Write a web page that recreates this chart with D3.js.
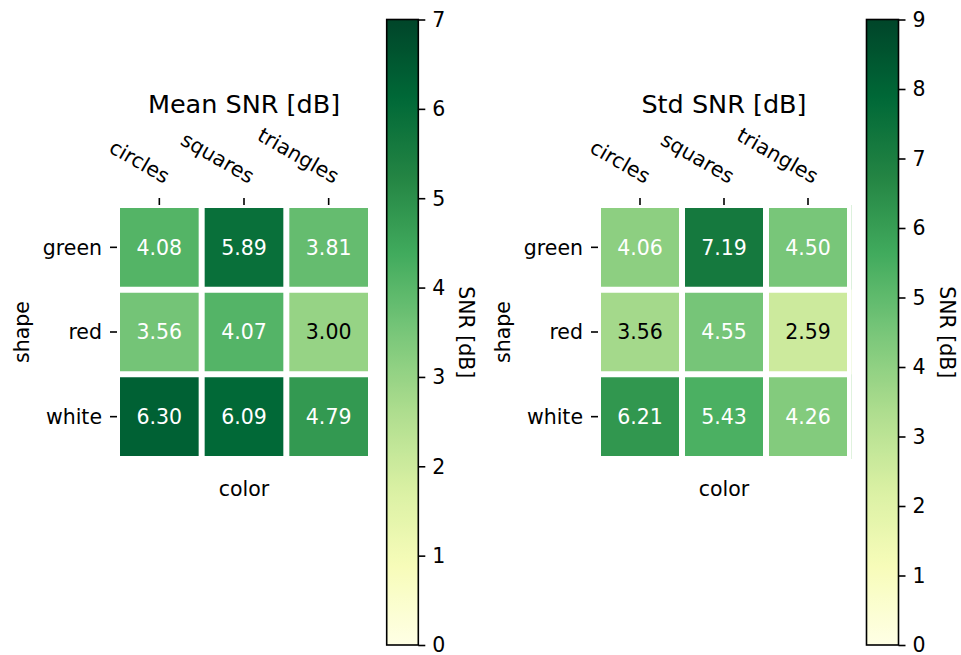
<!DOCTYPE html>
<html>
<head>
<meta charset="utf-8">
<script src="https://cdn.jsdelivr.net/npm/d3@7/dist/d3.min.js"></script>
<style>
  html, body { margin: 0; padding: 0; background: #fff; }
  svg { display: block; font-family: "DejaVu Sans", sans-serif; }
</style>
</head>
<body>
<svg id="chart" width="961" height="655"></svg>
<script>
// Row / column categories
const shapes = ["green", "red", "white"];
const colors = ["circles", "squares", "triangles"];

// SNR statistics per (shape, color)
const meanSNR = [
  [4.08, 5.89, 3.81],
  [3.56, 4.07, 3.00],
  [6.30, 6.09, 4.79]
];
const stdSNR = [
  [4.06, 7.19, 4.50],
  [3.56, 4.55, 2.59],
  [6.21, 5.43, 4.26]
];

// Colorbar tick values
const meanTicks = [0, 1, 2, 3, 4, 5, 6, 7];
const stdTicks = [0, 1, 2, 3, 4, 5, 6, 7, 8, 9];

const panelTitles = ["Mean SNR [dB]", "Std SNR [dB]"];
const xAxisLabel = "color";
const yAxisLabel = "shape";
const colorbarLabel = "SNR [dB]";

// Layout of each panel (heatmap axes, colorbar box)
const layouts = [
  { ax: { x0: 117, x1: 371, y0: 205, y1: 459 },
    cb: { x0: 386.7, x1: 418.3, y0: 19.5, y1: 645 }, overhang: 0 },
  { ax: { x0: 598, x1: 850, y0: 205, y1: 459 },
    cb: { x0: 866.5, x1: 898.5, y0: 19.5, y1: 645 }, overhang: 1.5 }
];

const panels = [
  { title: panelTitles[0], values: meanSNR, ticks: meanTicks, ...layouts[0] },
  { title: panelTitles[1], values: stdSNR, ticks: stdTicks, ...layouts[1] }
];

const svg = d3.select("#chart");
const defs = svg.append("defs");
const FS = 20.5;
const TITLE_FS = 25.5;
const ylgn = d3.schemeYlGn[9];

panels.forEach((p, pi) => {
  const vmax = d3.max(p.ticks), vmin = d3.min(p.ticks);
  const color = d3.scaleLinear()
    .domain(ylgn.map((_, i) => vmin + (vmax - vmin) * i / (ylgn.length - 1)))
    .range(ylgn)
    .interpolate(d3.interpolateRgb)
    .clamp(true);
  const norm = d3.scaleLinear().domain([vmin, vmax]);
  const threshold = norm(d3.max(p.values.flat())) / 2;

  const x = d3.scaleBand().domain(colors).range([p.ax.x0, p.ax.x1]);
  const y = d3.scaleBand().domain(shapes).range([p.ax.y0, p.ax.y1]);

  const g = svg.append("g");

  // Cells (the image may spill a little past the right grid line)
  const cells = [];
  shapes.forEach((s, i) => colors.forEach((c, j) => cells.push({ s, c, v: p.values[i][j], j })));
  const imgClipId = "imgclip" + pi;
  defs.append("clipPath").attr("id", imgClipId).append("rect")
    .attr("x", p.ax.x0).attr("y", p.ax.y0)
    .attr("width", p.ax.x1 - p.ax.x0 + p.overhang).attr("height", p.ax.y1 - p.ax.y0);
  g.append("g").attr("clip-path", `url(#${imgClipId})`)
    .selectAll("rect").data(cells).join("rect")
    .attr("x", d => x(d.c))
    .attr("y", d => y(d.s))
    .attr("width", d => x.bandwidth() + (d.j === colors.length - 1 ? p.overhang : 0))
    .attr("height", y.bandwidth())
    .attr("fill", d => color(d.v));

  // White grid between cells, clipped to the axes box
  const clipId = "axclip" + pi;
  defs.append("clipPath").attr("id", clipId).append("rect")
    .attr("x", p.ax.x0 - 1).attr("y", p.ax.y0 - 1)
    .attr("width", p.ax.x1 - p.ax.x0 + 2).attr("height", p.ax.y1 - p.ax.y0 + 2);
  const grid = g.append("g").attr("clip-path", `url(#${clipId})`)
    .attr("stroke", "#fff").attr("stroke-width", 6);
  const xb = colors.map(c => x(c)).concat([p.ax.x1]);
  const yb = shapes.map(s => y(s)).concat([p.ax.y1]);
  grid.selectAll("line.v").data(xb).join("line").attr("class", "v")
    .attr("x1", d => d).attr("x2", d => d).attr("y1", p.ax.y0 - 5).attr("y2", p.ax.y1 + 5);
  grid.selectAll("line.h").data(yb).join("line").attr("class", "h")
    .attr("y1", d => d).attr("y2", d => d).attr("x1", p.ax.x0 - 5).attr("x2", p.ax.x1 + 5);

  // Annotations
  g.append("g").selectAll("text").data(cells).join("text")
    .attr("x", d => x(d.c) + x.bandwidth() / 2)
    .attr("y", d => y(d.s) + y.bandwidth() / 2)
    .attr("dy", "0.36em")
    .attr("text-anchor", "middle")
    .attr("font-size", FS)
    .attr("fill", d => norm(d.v) > threshold ? "#fff" : "#000")
    .text(d => d.v.toFixed(2));

  // Top axis with rotated labels
  const xAxis = g.append("g")
    .attr("transform", `translate(0,${p.ax.y0})`)
    .call(d3.axisTop(x).tickSize(7).tickSizeOuter(0));
  xAxis.select(".domain").remove();
  xAxis.selectAll(".tick line").attr("stroke", "#000").attr("stroke-width", 1.6);
  xAxis.selectAll(".tick text")
    .attr("font-size", FS).attr("font-family", "DejaVu Sans")
    .attr("fill", "#000")
    .attr("text-anchor", "end")
    .attr("x", 0).attr("y", 0).attr("dy", 0)
    .attr("transform", "translate(5,-21) rotate(30)");

  // Left axis
  const yAxis = g.append("g")
    .attr("transform", `translate(${p.ax.x0},0)`)
    .call(d3.axisLeft(y).tickSize(7).tickPadding(8).tickSizeOuter(0));
  yAxis.select(".domain").remove();
  yAxis.selectAll(".tick line").attr("stroke", "#000").attr("stroke-width", 1.6);
  yAxis.selectAll(".tick text")
    .attr("font-size", FS).attr("font-family", "DejaVu Sans")
    .attr("fill", "#000").attr("dy", "0.36em");

  const cx = (p.ax.x0 + p.ax.x1) / 2;
  const cy = (p.ax.y0 + p.ax.y1) / 2;

  // Title and axis labels
  g.append("text").attr("x", cx).attr("y", 113)
    .attr("text-anchor", "middle").attr("font-size", TITLE_FS).attr("fill", "#000")
    .text(p.title);
  g.append("text").attr("x", cx).attr("y", 496)
    .attr("text-anchor", "middle").attr("font-size", FS).attr("fill", "#000")
    .text(xAxisLabel);
  g.append("text")
    .attr("transform", `translate(${p.ax.x0 - 88.5},${cy}) rotate(-90)`)
    .attr("text-anchor", "middle").attr("font-size", FS).attr("fill", "#000")
    .text(yAxisLabel);

  // Colorbar
  const gradId = "cbgrad" + pi;
  const grad = defs.append("linearGradient").attr("id", gradId)
    .attr("x1", 0).attr("y1", 1).attr("x2", 0).attr("y2", 0);
  grad.selectAll("stop").data(d3.range(0, 1.0001, 1 / 64)).join("stop")
    .attr("offset", d => d)
    .attr("stop-color", d => color(vmin + d * (vmax - vmin)));

  const cbScale = d3.scaleLinear().domain([vmin, vmax]).range([p.cb.y1, p.cb.y0]);
  g.append("rect")
    .attr("x", p.cb.x0).attr("y", p.cb.y0)
    .attr("width", p.cb.x1 - p.cb.x0).attr("height", p.cb.y1 - p.cb.y0)
    .attr("fill", `url(#${gradId})`)
    .attr("stroke", "#000").attr("stroke-width", 1.6);

  const cbAxis = g.append("g")
    .attr("transform", `translate(${p.cb.x1},0)`)
    .call(d3.axisRight(cbScale).tickValues(p.ticks).tickFormat(d3.format("d"))
      .tickSize(7).tickPadding(7).tickSizeOuter(0));
  cbAxis.select(".domain").remove();
  cbAxis.selectAll(".tick line").attr("stroke", "#000").attr("stroke-width", 1.6);
  cbAxis.selectAll(".tick text")
    .attr("font-size", FS).attr("font-family", "DejaVu Sans")
    .attr("fill", "#000").attr("dy", "0.34em");

  g.append("text")
    .attr("transform", `translate(${p.cb.x1 + 41},${(p.cb.y0 + p.cb.y1) / 2}) rotate(90)`)
    .attr("text-anchor", "middle").attr("font-size", FS).attr("fill", "#000")
    .text(colorbarLabel);
});
</script>
</body>
</html>
